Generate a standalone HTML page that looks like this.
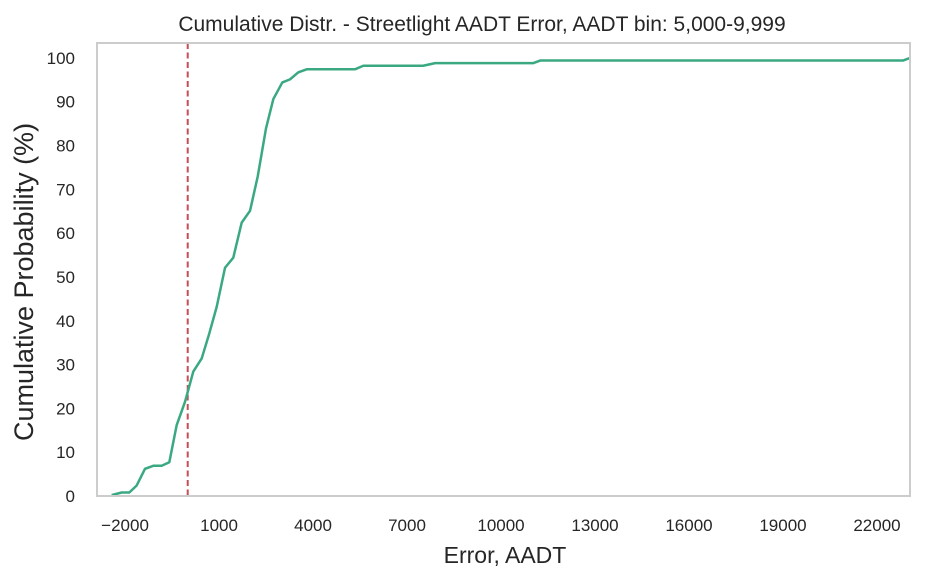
<!DOCTYPE html>
<html><head><meta charset="utf-8"><style>
body{margin:0;background:#fff;}
svg text{font-family:"Liberation Sans",Arial,sans-serif;fill:#262626;}
</style></head><body>
<svg id="chart" width="926" height="577"></svg>
<script>
const xValues=[-2426,-2107,-1864,-1628,-1363,-1098,-830,-587,-351,-86,179,447,689,926,1191,1455,1723,1989,2234,2499,2733,3020,3265,3531,3798,5339,5606,7514,7897,11025,11250,22830,23054];
const yValues=[0.2,0.8,0.8,2.4,6.2,6.9,6.9,7.7,16.2,21.5,28.4,31.4,37.1,43.2,52.1,54.4,62.4,65.1,72.9,83.9,90.6,94.4,95.1,96.7,97.4,97.4,98.2,98.2,98.8,98.8,99.4,99.4,100];
const xTicks=[-2000,1000,4000,7000,10000,13000,16000,19000,22000];
const yTicks=[0,10,20,30,40,50,60,70,80,90,100];
const refLine=0;
const NS="http://www.w3.org/2000/svg";
const svg=document.getElementById('chart');
const L=97,R=910,T=43,B=496;
const xMin=-2895,xMax=23054,yMin=0,yMax=103.4;
const sx=v=>L+(v-xMin)/(xMax-xMin)*(R-L);
const sy=v=>B-(v-yMin)/(yMax-yMin)*(B-T);
function mk(tag,attrs,parent){const e=document.createElementNS(NS,tag);for(const k in attrs)e.setAttribute(k,attrs[k]);(parent||svg).appendChild(e);return e;}
const title=mk('text',{x:482,y:31,'text-anchor':'middle','font-size':21});
title.textContent='Cumulative Distr. - Streetlight AADT Error, AADT bin: 5,000-9,999';


xTicks.forEach(t=>{const e=mk('text',{x:sx(t),y:531,'text-anchor':'middle','font-size':17});e.textContent=String(t).replace('-','\u2212');

});
yTicks.forEach(t=>{const e=mk('text',{x:75,y:sy(t)+6,'text-anchor':'end','font-size':17});e.textContent=t;

});
const xl=mk('text',{x:505,y:563,'text-anchor':'middle','font-size':23});xl.textContent='Error, AADT';


const yl=mk('text',{x:0,y:0,'text-anchor':'middle','font-size':27,transform:`translate(33,282) rotate(-90)`});yl.textContent='Cumulative Probability (%)';


const rl=mk('line',{x1:sx(refLine),x2:sx(refLine),y1:T,y2:B,stroke:'#c44e52','stroke-width':2,'stroke-dasharray':'6,3.5'});


const pl=mk('polyline',{points:xValues.map((x,i)=>sx(x)+','+sy(yValues[i])).join(' '),fill:'none',stroke:'#3aa981','stroke-width':2.5,'stroke-linejoin':'round'});


const fr=mk('rect',{x:L,y:T,width:R-L,height:B-T,fill:'none',stroke:'#cccccc','stroke-width':2});


</script>
</body></html>
